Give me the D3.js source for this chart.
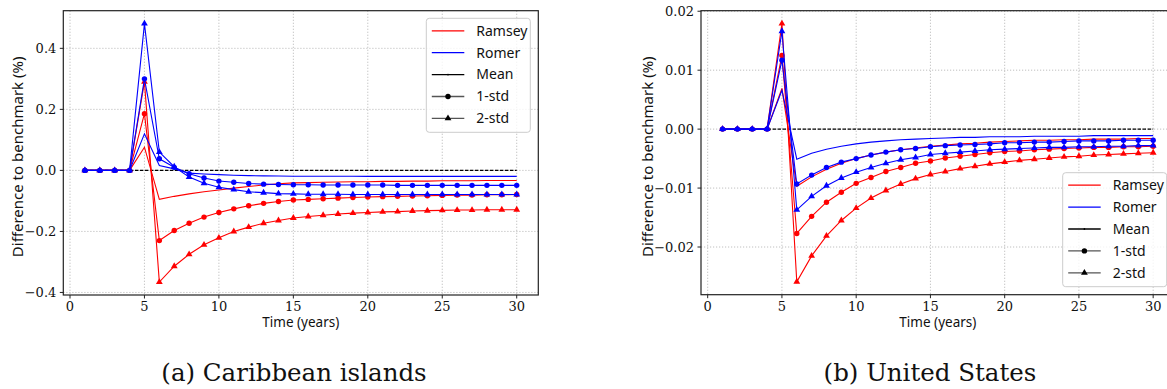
<!DOCTYPE html>
<html>
<head>
<meta charset="utf-8">
<script src="https://cdn.jsdelivr.net/npm/d3@7"></script>
<style>
  body { margin: 0; background: #fff; }
  text { fill: #111; }
</style>
</head>
<body>
<div id="chart"></div>
<script>
var time = [1,2,3,4,5,6,7,8,9,10,11,12,13,14,15,16,17,18,19,20,21,22,23,24,25,26,27,28,29,30];

// (a) Caribbean islands
var ramseyMeanCar = [0,0,0,0,0.076,-0.095,-0.085,-0.077,-0.070,-0.064,-0.058,-0.053,-0.048,-0.044,-0.041,-0.040,-0.039,-0.038,-0.037,-0.037,-0.036,-0.036,-0.035,-0.035,-0.034,-0.034,-0.034,-0.033,-0.033,-0.033];
var ramsey1Car = [0,0,0,0,0.186,-0.230,-0.197,-0.173,-0.153,-0.138,-0.126,-0.116,-0.108,-0.102,-0.097,-0.095,-0.093,-0.091,-0.089,-0.087,-0.086,-0.085,-0.084,-0.083,-0.082,-0.081,-0.081,-0.080,-0.080,-0.079];
var ramsey2Car = [0,0,0,0,0.290,-0.366,-0.314,-0.275,-0.244,-0.221,-0.200,-0.186,-0.173,-0.164,-0.156,-0.151,-0.147,-0.143,-0.140,-0.138,-0.136,-0.135,-0.133,-0.132,-0.131,-0.130,-0.130,-0.129,-0.129,-0.129];
var romerMeanCar = [0,0,0,0,0.120,0.016,0.005,-0.009,-0.012,-0.014,-0.016,-0.017,-0.018,-0.0185,-0.019,-0.019,-0.0192,-0.0193,-0.0194,-0.0195,-0.0195,-0.0196,-0.0196,-0.0196,-0.0197,-0.0197,-0.0197,-0.0197,-0.0197,-0.0197];
var romer1Car = [0,0,0,0,0.300,0.038,0.010,-0.011,-0.025,-0.035,-0.039,-0.043,-0.045,-0.046,-0.047,-0.047,-0.048,-0.048,-0.048,-0.048,-0.048,-0.049,-0.049,-0.049,-0.049,-0.049,-0.049,-0.049,-0.049,-0.049];
var romer2Car = [0,0,0,0,0.481,0.060,0.012,-0.022,-0.042,-0.055,-0.063,-0.070,-0.073,-0.076,-0.077,-0.078,-0.078,-0.078,-0.079,-0.079,-0.079,-0.079,-0.079,-0.079,-0.079,-0.079,-0.079,-0.079,-0.079,-0.079];

// (b) United States
var ramseyMeanUS = [0,0,0,0,0.0069,-0.0097,-0.0081,-0.0068,-0.0058,-0.0050,-0.0044,-0.0039,-0.0035,-0.0032,-0.0029,-0.0027,-0.0025,-0.0024,-0.0022,-0.0021,-0.0020,-0.0019,-0.0019,-0.0018,-0.0018,-0.0017,-0.0017,-0.0017,-0.0016,-0.0016];
var ramsey1US = [0,0,0,0,0.0125,-0.0177,-0.0148,-0.0124,-0.0107,-0.0092,-0.0082,-0.0072,-0.0065,-0.0058,-0.0054,-0.0049,-0.0046,-0.0043,-0.0040,-0.0038,-0.0037,-0.0035,-0.0034,-0.0033,-0.0032,-0.0031,-0.0031,-0.0030,-0.0030,-0.0029];
var ramsey2US = [0,0,0,0,0.0179,-0.0259,-0.0215,-0.0181,-0.0155,-0.0134,-0.0117,-0.0104,-0.0093,-0.0084,-0.0077,-0.0072,-0.0067,-0.0063,-0.0059,-0.0056,-0.0053,-0.0051,-0.0049,-0.0047,-0.0046,-0.0044,-0.0043,-0.0042,-0.0041,-0.0040];
var romerMeanUS = [0,0,0,0,0.0066,-0.0051,-0.0041,-0.0034,-0.0029,-0.0025,-0.0022,-0.0020,-0.0018,-0.0017,-0.0016,-0.0015,-0.0014,-0.0014,-0.0013,-0.0013,-0.0013,-0.0012,-0.0012,-0.0012,-0.0012,-0.0011,-0.0011,-0.0011,-0.0011,-0.0011];
var romer1US = [0,0,0,0,0.0117,-0.0093,-0.0078,-0.0065,-0.0056,-0.0050,-0.0044,-0.0039,-0.0035,-0.0033,-0.0030,-0.0028,-0.0027,-0.0026,-0.0025,-0.0023,-0.0023,-0.0022,-0.0022,-0.0021,-0.0020,-0.0020,-0.0020,-0.0019,-0.0019,-0.0019];
var romer2US = [0,0,0,0,0.0166,-0.0137,-0.0114,-0.0096,-0.0083,-0.0073,-0.0065,-0.0058,-0.0052,-0.0048,-0.0043,-0.0041,-0.0039,-0.0037,-0.0035,-0.0034,-0.0033,-0.0032,-0.0031,-0.0031,-0.0030,-0.0030,-0.0029,-0.0029,-0.0028,-0.0028];

var xTicks = [0,5,10,15,20,25,30];
var yTicksCar = [-0.4,-0.2,0.0,0.2,0.4];
var yTicksUS = [-0.02,-0.01,0.00,0.01,0.02];
var legendLabels = ["Ramsey","Romer","Mean","1-std","2-std"];
var captions = ["(a) Caribbean islands","(b) United States"];

var red = "#ff0000", blue = "#0000ff";
var sans = "'Noto Sans', 'DejaVu Sans', sans-serif";
var serif = "'DejaVu Serif', serif";

var svg = d3.select("#chart").append("svg")
    .attr("width", 1167)
    .attr("height", 389);

function drawPanel(p) {
    var g = svg.append("g");

    var all = [].concat.apply([], p.series.map(function(s) { return s.values; }));
    var lo = d3.min(all), hi = d3.max(all), pad = (hi - lo) * 0.05;

    var x = d3.scaleLinear().domain([-0.45, 31.45]).range([p.left, p.right]);
    var y = d3.scaleLinear().domain([lo - pad, hi + pad]).range([p.bottom, p.top]);

    // grid
    g.selectAll(".gx").data(xTicks).enter().append("line")
        .attr("x1", d => x(d)).attr("x2", d => x(d))
        .attr("y1", p.top).attr("y2", p.bottom)
        .attr("stroke", "#b0b0b0").attr("stroke-width", 0.8)
        .attr("stroke-dasharray", "1.2,1.8");
    g.selectAll(".gy").data(p.yTicks).enter().append("line")
        .attr("x1", p.left).attr("x2", p.right)
        .attr("y1", d => y(d)).attr("y2", d => y(d))
        .attr("stroke", "#b0b0b0").attr("stroke-width", 0.8)
        .attr("stroke-dasharray", "1.2,1.8");

    // zero benchmark
    g.append("line")
        .attr("x1", x(time[0])).attr("x2", x(time[time.length - 1]))
        .attr("y1", y(0)).attr("y2", y(0))
        .attr("stroke", "#000").attr("stroke-width", 1.2)
        .attr("stroke-dasharray", "3.5,1.5");

    var line = d3.line()
        .x((d, i) => x(time[i]))
        .y(d => y(d));

    p.series.forEach(function(s) {
        g.append("path")
            .attr("d", line(s.values))
            .attr("fill", "none")
            .attr("stroke", s.color)
            .attr("stroke-width", 1.1);
        if (s.marker === "circle") {
            g.selectAll(null).data(s.values).enter().append("circle")
                .attr("cx", (d, i) => x(time[i]))
                .attr("cy", d => y(d))
                .attr("r", 2.7)
                .attr("fill", s.color);
        } else if (s.marker === "triangle") {
            g.selectAll(null).data(s.values).enter().append("path")
                .attr("d", d3.symbol().type(d3.symbolTriangle).size(20))
                .attr("transform", (d, i) => "translate(" + x(time[i]) + "," + y(d) + ")")
                .attr("fill", s.color);
        }
    });

    // spines
    g.append("rect")
        .attr("x", p.left).attr("y", p.top)
        .attr("width", p.right - p.left).attr("height", p.bottom - p.top)
        .attr("fill", "none").attr("stroke", "#222").attr("stroke-width", 1.2);

    // x ticks
    var xt = g.selectAll(".xt").data(xTicks).enter().append("g")
        .attr("transform", d => "translate(" + x(d) + "," + p.bottom + ")");
    xt.append("line").attr("y2", 3.5).attr("stroke", "#222");
    xt.append("text").attr("y", 16).attr("text-anchor", "middle")
        .style("font-family", serif).style("font-size", "13px")
        .text(d => d);

    // y ticks
    var yt = g.selectAll(".yt").data(p.yTicks).enter().append("g")
        .attr("transform", d => "translate(" + p.left + "," + y(d) + ")");
    yt.append("line").attr("x2", -3.5).attr("stroke", "#222");
    yt.append("text").attr("x", -7).attr("dy", "0.35em").attr("text-anchor", "end")
        .style("font-family", serif).style("font-size", "13px")
        .text(d => d3.format(p.fmt)(d).replace("-", "\u2212"));

    // axis labels
    g.append("text")
        .attr("x", (p.left + p.right) / 2).attr("y", 327)
        .attr("text-anchor", "middle")
        .style("font-family", sans).style("font-size", "13.5px")
        .text("Time (years)");
    g.append("text")
        .attr("transform", "translate(" + p.ylabelX + "," + ((p.top + p.bottom) / 2 + 4) + ") rotate(-90)")
        .attr("text-anchor", "middle")
        .style("font-family", sans).style("font-size", "15px")
        .text("Difference to benchmark (%)");

    // legend
    var lw = 104, lh = 114;
    var lx = p.right - 8 - lw;
    var ly = p.legendTop ? p.top + 7.6 : p.bottom - 8 - lh;
    var lg = g.append("g").attr("transform", "translate(" + lx + "," + ly + ")");
    lg.append("rect").attr("width", lw).attr("height", lh).attr("rx", 3)
        .attr("fill", "#fff").attr("fill-opacity", 0.8)
        .attr("stroke", "#cccccc").attr("stroke-width", 1);
    var handles = [
        {color: red, marker: null},
        {color: blue, marker: null},
        {color: "#000", marker: "dot"},
        {color: "#555", marker: "circle"},
        {color: "#555", marker: "triangle"}
    ];
    legendLabels.forEach(function(lab, i) {
        var ry = 12.5 + i * 21.9;
        var h = handles[i];
        lg.append("line").attr("x1", 5.5).attr("x2", 38).attr("y1", ry).attr("y2", ry)
            .attr("stroke", h.color).attr("stroke-width", 1.3);
        if (h.marker === "dot") {
            lg.append("circle").attr("cx", 21.7).attr("cy", ry).attr("r", 0.9).attr("fill", "#000");
        } else if (h.marker === "circle") {
            lg.append("circle").attr("cx", 21.7).attr("cy", ry).attr("r", 2.7).attr("fill", "#000");
        } else if (h.marker === "triangle") {
            lg.append("path").attr("d", d3.symbol().type(d3.symbolTriangle).size(20))
                .attr("transform", "translate(21.7," + ry + ")").attr("fill", "#000");
        }
        lg.append("text").attr("x", 50).attr("y", ry).attr("dy", "0.35em")
            .style("font-family", sans).style("font-size", "14px")
            .text(lab);
    });

    // caption
    svg.append("text")
        .attr("x", p.captionX).attr("y", 381)
        .attr("text-anchor", "middle")
        .style("font-family", serif).style("font-size", "24.5px")
        .style("font-weight", 300)
        .text(p.caption);
}

drawPanel({
    left: 63.3, right: 538.3, top: 10.7, bottom: 295,
    yTicks: yTicksCar, fmt: ".1f", ylabelX: 23, legendTop: true,
    caption: captions[0], captionX: 294,
    series: [
        {values: ramseyMeanCar, color: red, marker: null},
        {values: ramsey1Car, color: red, marker: "circle"},
        {values: ramsey2Car, color: red, marker: "triangle"},
        {values: romerMeanCar, color: blue, marker: null},
        {values: romer1Car, color: blue, marker: "circle"},
        {values: romer2Car, color: blue, marker: "triangle"}
    ]
});

drawPanel({
    left: 701, right: 1174.7, top: 10.7, bottom: 294.7,
    yTicks: yTicksUS, fmt: ".2f", ylabelX: 653, legendTop: false,
    caption: captions[1], captionX: 930,
    series: [
        {values: ramseyMeanUS, color: red, marker: null},
        {values: ramsey1US, color: red, marker: "circle"},
        {values: ramsey2US, color: red, marker: "triangle"},
        {values: romerMeanUS, color: blue, marker: null},
        {values: romer1US, color: blue, marker: "circle"},
        {values: romer2US, color: blue, marker: "triangle"}
    ]
});
</script>
</body>
</html>
